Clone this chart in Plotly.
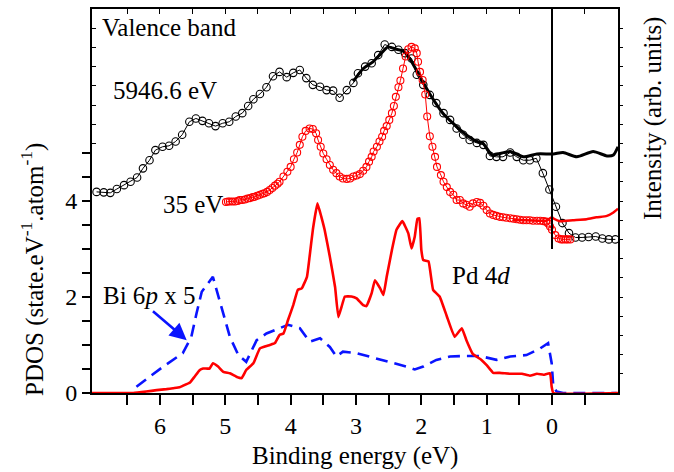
import plotly.graph_objects as go

# ---------------- data ----------------
# Valence band, hv = 5946.6 eV (open black circles)
hx_E = [6.97, 6.86, 6.76, 6.66, 6.55, 6.45, 6.35, 6.26, 6.16, 6.07, 5.96, 5.86, 5.76, 5.66,
        5.55, 5.45, 5.35, 5.25, 5.15, 5.04, 4.94, 4.84, 4.74, 4.65, 4.57, 4.47, 4.37, 4.27,
        4.17, 4.06, 3.96, 3.86, 3.76, 3.66, 3.55, 3.45, 3.35, 3.25, 3.14, 3.04, 2.97, 2.86,
        2.76, 2.66, 2.56, 2.45, 2.35, 2.25, 2.15, 2.07, 1.97, 1.87, 1.77, 1.66, 1.56, 1.46,
        1.36, 1.26, 1.15, 1.05, 0.95, 0.85, 0.75, 0.64, 0.54, 0.44, 0.34, 0.24, 0.14, 0.04,
        -0.06, -0.16, -0.26, -0.36, -0.46, -0.56, -0.67, -0.77, -0.87, -0.97]
hx_I = [4.19, 4.18, 4.17, 4.25, 4.33, 4.40, 4.49, 4.68, 4.85, 5.06, 5.13, 5.15, 5.24, 5.38,
        5.65, 5.72, 5.67, 5.62, 5.56, 5.62, 5.65, 5.76, 5.83, 5.98, 6.12, 6.23, 6.37, 6.60,
        6.69, 6.58, 6.67, 6.73, 6.56, 6.42, 6.38, 6.31, 6.30, 6.15, 6.31, 6.46, 6.66, 6.80,
        6.87, 7.04, 7.26, 7.21, 7.15, 7.08, 6.97, 6.63, 6.42, 6.21, 6.04, 5.83, 5.69, 5.51,
        5.38, 5.27, 5.21, 5.17, 4.94, 4.92, 4.92, 5.01, 4.92, 4.85, 4.85, 4.89, 4.58, 4.24,
        3.88, 3.54, 3.33, 3.24, 3.24, 3.25, 3.26, 3.22, 3.20, 3.20]

# Calculated curve for 5946.6 eV (black solid)
hx_fit_E = [3.04, 2.89, 2.74, 2.61, 2.51, 2.38, 2.28, 2.17, 2.02, 1.87, 1.67, 1.36, 1.15,
            1.06, 0.92, 0.85, 0.64, 0.44, 0.23, -0.02, -0.17, -0.38, -0.63, -0.84, -0.94, -1.01]
hx_fit_I = [6.49, 6.76, 6.90, 7.08, 7.21, 7.16, 7.13, 6.95, 6.59, 6.23, 5.83, 5.43, 5.24,
            5.21, 4.96, 4.97, 5.03, 4.92, 4.98, 4.98, 5.01, 4.92, 5.03, 4.94, 4.96, 5.13]

# Valence band, hv = 35 eV (open red circles)
lx_E = [4.99, 4.96, 4.93, 4.89, 4.85, 4.81, 4.78, 4.74, 4.70, 4.66, 4.62, 4.58, 4.55, 4.51,
        4.47, 4.43, 4.40, 4.36, 4.32, 4.28, 4.24, 4.20, 4.17, 4.11, 4.05, 4.00, 3.95, 3.90,
        3.86, 3.82, 3.77, 3.71, 3.66, 3.61, 3.58, 3.54, 3.50, 3.45, 3.40, 3.35, 3.30, 3.25,
        3.20, 3.14, 3.09, 3.04, 2.99, 2.94, 2.89, 2.84, 2.80, 2.76, 2.73, 2.68, 2.64, 2.60,
        2.57, 2.53, 2.49, 2.45, 2.42, 2.39, 2.35, 2.32, 2.28, 2.24, 2.20, 2.15, 2.10, 2.07,
        2.05, 2.02, 1.98, 1.94, 1.91, 1.87, 1.83, 1.79, 1.76, 1.70, 1.66, 1.61, 1.56, 1.51,
        1.46, 1.41, 1.36, 1.31, 1.26, 1.21, 1.15, 1.10, 1.05, 1.00, 0.95, 0.90, 0.85, 0.80,
        0.75, 0.70, 0.64, 0.59, 0.54, 0.49, 0.44, 0.39, 0.34, 0.29, 0.23, 0.18, 0.13, 0.09,
        0.06, 0.03, 0.00, -0.05, -0.10, -0.14, -0.17, -0.21, -0.24, -0.28]
lx_I = [3.98, 3.99, 3.99, 3.99, 3.99, 4.00, 4.02, 4.02, 4.03, 4.05, 4.06, 4.08, 4.09, 4.11,
        4.13, 4.15, 4.16, 4.19, 4.23, 4.27, 4.32, 4.36, 4.40, 4.51, 4.61, 4.71, 4.87, 5.01,
        5.17, 5.34, 5.46, 5.51, 5.50, 5.41, 5.27, 5.13, 4.99, 4.87, 4.75, 4.65, 4.58, 4.51,
        4.47, 4.46, 4.47, 4.51, 4.53, 4.56, 4.63, 4.71, 4.82, 4.92, 5.03, 5.13, 5.24, 5.34,
        5.46, 5.56, 5.69, 5.83, 5.98, 6.17, 6.37, 6.51, 6.76, 7.01, 7.16, 7.21, 7.18, 7.08,
        6.90, 6.69, 6.52, 6.22, 5.76, 5.35, 5.13, 4.92, 4.71, 4.54, 4.40, 4.29, 4.19, 4.13,
        4.02, 4.02, 3.95, 3.92, 3.88, 3.95, 3.98, 3.96, 3.90, 3.81, 3.74, 3.71, 3.69, 3.67,
        3.66, 3.65, 3.64, 3.63, 3.62, 3.61, 3.60, 3.60, 3.60, 3.59, 3.59, 3.59, 3.58, 3.57,
        3.53, 3.47, 3.40, 3.29, 3.22, 3.20, 3.20, 3.20, 3.20, 3.20]

# Calculated curve for 35 eV (red solid, near E_F)
lx_fit_E = [0.60, 0.40, 0.20, 0.08, 0.03, 0.00, -0.03, -0.12, -0.32, -0.53, -0.68, -0.84, -0.94, -1.01]
lx_fit_I = [3.61, 3.60, 3.59, 3.59, 3.64, 3.66, 3.63, 3.58, 3.60, 3.62, 3.66, 3.69, 3.76, 3.84]

# Pd 4d partial DOS (red solid)
pd_E = [7.04, 6.62, 6.41, 6.21, 6.05, 5.90, 5.80, 5.70, 5.65, 5.54, 5.47, 5.39, 5.34, 5.24,
        5.19, 5.11, 5.03, 4.93, 4.83, 4.75, 4.68, 4.57, 4.47, 4.32, 4.24, 4.17, 4.11, 4.04,
        3.96, 3.89, 3.83, 3.75, 3.71, 3.66, 3.59, 3.53, 3.48, 3.40, 3.32, 3.27, 3.22, 3.17,
        3.07, 2.99, 2.89, 2.84, 2.76, 2.71, 2.63, 2.58, 2.53, 2.45, 2.38, 2.29, 2.20, 2.15,
        2.10, 2.06, 2.03, 2.00, 1.97, 1.89, 1.82, 1.72, 1.61, 1.49, 1.38, 1.31, 1.21, 1.08,
        1.00, 0.90, 0.80, 0.64, 0.46, 0.34, 0.23, 0.13, 0.03, 0.005, -0.02, -1.02]
pd_dos = [0.00, 0.00, 0.00, 0.03, 0.06, 0.08, 0.10, 0.12, 0.15, 0.22, 0.34, 0.48, 0.51, 0.51,
          0.62, 0.55, 0.44, 0.41, 0.34, 0.31, 0.48, 0.62, 0.93, 1.00, 1.04, 1.21, 1.24, 1.52,
          1.83, 2.15, 2.18, 2.42, 2.84, 3.40, 3.95, 3.67, 3.40, 2.84, 2.21, 1.58, 1.80, 2.01,
          2.01, 1.97, 1.83, 1.81, 2.08, 2.35, 2.18, 2.04, 2.42, 2.98, 3.40, 3.58, 3.33, 3.01,
          3.26, 3.63, 3.64, 2.98, 2.77, 2.74, 2.15, 2.01, 1.60, 1.17, 1.35, 1.10, 0.81, 0.69,
          0.58, 0.42, 0.42, 0.40, 0.40, 0.36, 0.40, 0.38, 0.41, 0.13, 0.00, 0.00]

# Bi 6p partial DOS x 5 (blue dashed)
bi_E = [6.36, 5.95, 5.65, 5.52, 5.44, 5.36, 5.19, 5.08, 4.93, 4.80, 4.68, 4.52, 4.37, 4.17,
        4.04, 3.86, 3.71, 3.55, 3.40, 3.30, 3.20, 2.99, 2.74, 2.48, 2.23, 2.10, 1.97, 1.77,
        1.56, 1.36, 1.10, 0.85, 0.64, 0.39, 0.18, 0.06, 0.005, -0.02, -0.07, -0.17, -0.99]
bi_dos = [0.13, 0.55, 0.83, 1.17, 1.66, 2.11, 2.42, 1.90, 1.17, 0.79, 0.65, 1.10, 1.24, 1.35,
          1.42, 1.35, 1.07, 1.14, 0.96, 0.76, 0.86, 0.83, 0.74, 0.65, 0.55, 0.49, 0.55, 0.69,
          0.76, 0.77, 0.77, 0.69, 0.76, 0.79, 0.93, 1.04, 0.62, 0.13, 0.03, 0.00, 0.00]

# Fermi level marker
fermi_E = 0.0
fermi_line_y = [3.0, 8.0]

# Axes
x_range = [7.04, -1.01]
y_range = [0, 8]
x_tick_vals = [6.5, 6.0, 5.5, 5.0, 4.5, 4.0, 3.5, 3.0, 2.5, 2.0, 1.5, 1.0, 0.5, 0.0, -0.5]
x_tick_text = ["", "6", "", "5", "", "4", "", "3", "", "2", "", "1", "", "0", ""]
y_tick_vals = [0, 0.5, 1, 1.5, 2, 2.5, 3, 3.5, 4, 4.5, 5]
y_tick_text = ["0", "", "", "", "2", "", "", "", "4", "", ""]
intensity_ticks = [0.4, 0.8, 1.2, 1.6, 2.0, 2.4, 2.8, 3.2, 3.6, 4.0, 4.4, 4.8, 5.2, 5.6,
                   6.0, 6.4, 6.8, 7.2, 7.6]
intensity_ticks_left = [5.2, 5.6, 6.0, 6.4, 6.8, 7.2, 7.6]

FONT = '"Liberation Serif", "Times New Roman", Times, serif'
RED = "#ff0000"
BLUE = "#0a14ff"

fig = go.Figure()

# 5946.6 eV data
fig.add_trace(go.Scatter(x=hx_E, y=hx_I, mode="lines+markers",
                         line=dict(color="black", width=1),
                         marker=dict(symbol="circle-open", size=7.5, color="black",
                                     line=dict(width=1.1, color="black")),
                         showlegend=False, hoverinfo="skip"))
fig.add_trace(go.Scatter(x=hx_fit_E, y=hx_fit_I, mode="lines",
                         line=dict(color="black", width=3, shape="spline", smoothing=0.6),
                         showlegend=False, hoverinfo="skip"))
# 35 eV data
fig.add_trace(go.Scatter(x=lx_E, y=lx_I, mode="lines+markers",
                         line=dict(color=RED, width=1),
                         marker=dict(symbol="circle-open", size=7, color=RED,
                                     line=dict(width=1.1, color=RED)),
                         showlegend=False, hoverinfo="skip"))
fig.add_trace(go.Scatter(x=lx_fit_E, y=lx_fit_I, mode="lines",
                         line=dict(color=RED, width=2.5, shape="spline", smoothing=0.5),
                         showlegend=False, hoverinfo="skip"))
# PDOS
fig.add_trace(go.Scatter(x=bi_E, y=bi_dos, mode="lines",
                         line=dict(color=BLUE, width=2.6, dash="12px,7px"),
                         showlegend=False, hoverinfo="skip"))
fig.add_trace(go.Scatter(x=pd_E, y=pd_dos, mode="lines",
                         line=dict(color=RED, width=2.6, shape="spline", smoothing=0.3),
                         showlegend=False, hoverinfo="skip"))
# Fermi level line
fig.add_trace(go.Scatter(x=[fermi_E, fermi_E], y=fermi_line_y, mode="lines",
                         line=dict(color="black", width=2),
                         showlegend=False, hoverinfo="skip"))
# dummy traces to activate helper axes
fig.add_trace(go.Scatter(x=[None], y=[None], xaxis="x2", yaxis="y", showlegend=False, hoverinfo="skip"))
fig.add_trace(go.Scatter(x=[None], y=[None], xaxis="x", yaxis="y2", showlegend=False, hoverinfo="skip"))
fig.add_trace(go.Scatter(x=[None], y=[None], xaxis="x", yaxis="y3", showlegend=False, hoverinfo="skip"))

tickfont = dict(family=FONT, size=24, color="black")
fig.update_layout(
    width=674, height=472,
    margin=dict(l=92, r=56, t=9, b=79),
    paper_bgcolor="white", plot_bgcolor="rgba(0,0,0,0)",
    font=dict(family=FONT, color="black"),
    showlegend=False,
    xaxis=dict(range=x_range, tickmode="array", tickvals=x_tick_vals, ticktext=x_tick_text,
               ticks="outside", ticklen=10, tickwidth=1.5, tickcolor="black",
               showline=True, linewidth=2, linecolor="black", showgrid=False, zeroline=False,
               tickfont=tickfont, anchor="y"),
    xaxis2=dict(range=x_range, overlaying="x", side="top", anchor="y", tickmode="array",
                tickvals=x_tick_vals, ticks="inside", ticklen=5, tickwidth=1.2, tickcolor="black",
                showticklabels=False, showline=True, linewidth=2, linecolor="black",
                showgrid=False, zeroline=False),
    yaxis=dict(range=y_range, tickmode="array", tickvals=y_tick_vals, ticktext=y_tick_text,
               ticks="outside", ticklen=8, tickwidth=1.5, tickcolor="black",
               showline=True, linewidth=2, linecolor="black", showgrid=False, zeroline=False,
               tickfont=tickfont, anchor="x"),
    yaxis2=dict(range=y_range, overlaying="y", side="right", anchor="x", tickmode="array",
                tickvals=intensity_ticks, ticks="outside", ticklen=3, tickwidth=1.2,
                tickcolor="black", showticklabels=False, showline=True, linewidth=2,
                linecolor="black", showgrid=False, zeroline=False),
    yaxis3=dict(range=[5, 8], domain=[0.625, 1.0], anchor="x", side="left", tickmode="array",
                tickvals=intensity_ticks_left, ticks="inside", ticklen=4, tickwidth=1.2,
                tickcolor="black", showticklabels=False, showline=False, showgrid=False,
                zeroline=False),
)

ann_font = dict(family=FONT, size=25, color="black")
def px2paper(px, py):
    return (px - 92) / 526.0, (393 - py) / 384.0

annotations = []
for text, px, py, anchor in [
    ("Valence band", 100, 28, "left"),
    ("5946.6 eV", 111, 91, "left"),
    ("35 eV", 161, 204, "left"),
    ("Pd 4<i>d</i>", 450, 275, "left"),
    ("Bi 6<i>p</i> x 5", 101, 295, "left"),
]:
    xx, yy = px2paper(px, py)
    annotations.append(dict(text=text, x=xx, y=yy, xref="paper", yref="paper",
                            xanchor=anchor, yanchor="middle", showarrow=False, font=ann_font))

# axis titles
xx, yy = px2paper(355, 456)
annotations.append(dict(text="Binding energy (eV)", x=xx, y=yy, xref="paper", yref="paper",
                        xanchor="center", yanchor="middle", showarrow=False, font=ann_font))
xx, yy = px2paper(32, 270)
annotations.append(dict(text="PDOS (state.eV<sup>-1</sup>.atom<sup>-1</sup>)", x=xx, y=yy,
                        xref="paper", yref="paper", xanchor="center", yanchor="middle",
                        textangle=-90, showarrow=False, font=ann_font))
xx, yy = px2paper(653, 119)
annotations.append(dict(text="Intensity (arb. units)", x=xx, y=yy, xref="paper", yref="paper",
                        xanchor="center", yanchor="middle", textangle=-90, showarrow=False,
                        font=ann_font))
# arrow pointing to Bi 6p curve
annotations.append(dict(text="", x=5.59, y=1.10, xref="x", yref="y", ax=6.13, ay=1.73,
                        axref="x", ayref="y", showarrow=True, arrowhead=2, arrowsize=1.3,
                        arrowwidth=2.6, arrowcolor=BLUE))
fig.update_layout(annotations=annotations)

fig.write_html("out.html", config={"displayModeBar": False},
               post_script="document.body.style.margin='0px';")
